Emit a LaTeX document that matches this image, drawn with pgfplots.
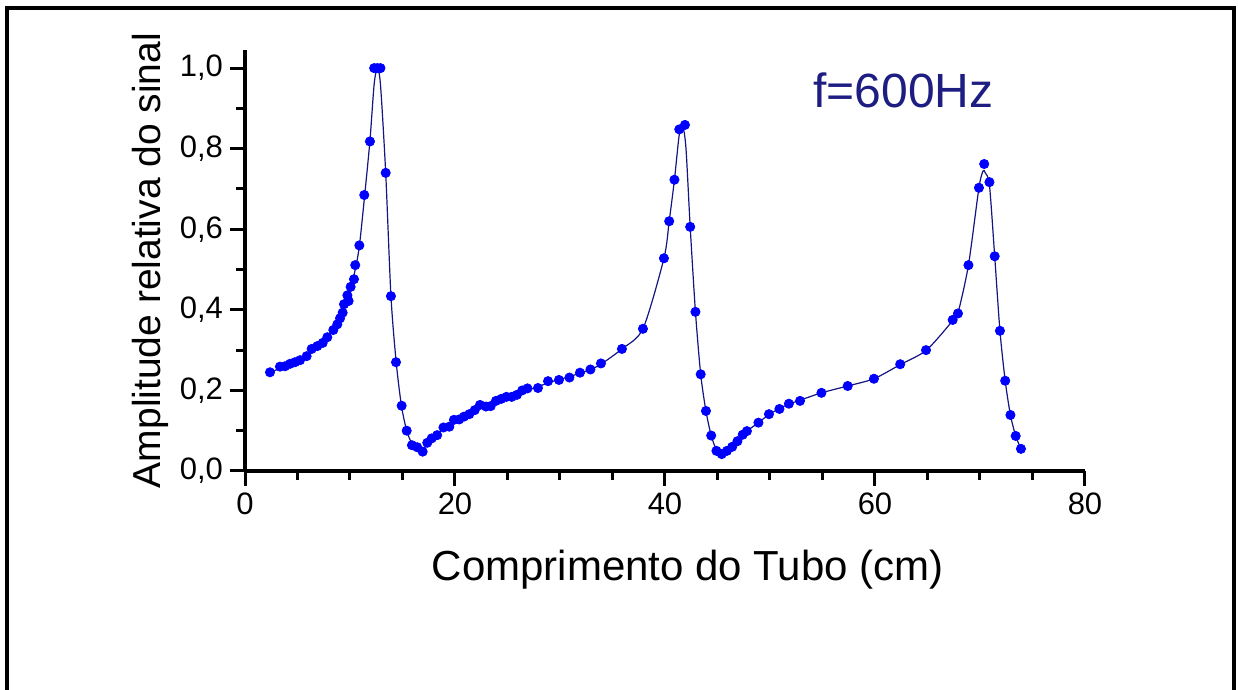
\documentclass[border=0pt]{standalone}
\usepackage{fontspec}
\setmainfont{Liberation Sans}
\usepackage{pgfplots}
\pgfplotsset{compat=1.18}
\definecolor{navyline}{RGB}{20,20,130}
\definecolor{ftext}{RGB}{30,30,130}
\begin{document}
\begin{tikzpicture}[x=1pt,y=1pt]
\useasboundingbox (0,0) rectangle (619,345);
\draw[line width=1.6pt] (3.5,-2) -- (3.5,341) -- (617,341) -- (617,-2);
\begin{axis}[
  at={(122.5pt,109.5pt)}, anchor=south west,
  scale only axis, width=420pt, height=210.5pt,
  xmin=0, xmax=80, ymin=0, ymax=1.045,
  axis x line*=bottom, axis y line*=left,
  axis line style={line width=2pt},
  xtick={0,20,40,60,80}, ytick={0,0.2,0.4,0.6,0.8,1.0},
  minor xtick={5,10,15,25,30,35,45,50,55,65,70,75},
  minor ytick={0.1,0.3,0.5,0.7,0.9},
  tick align=outside,
  major tick length=7.5pt, minor tick length=4.5pt,
  every tick/.style={black, line width=1.5pt},
  ticklabel style={font=\fontsize{15.5}{17}\selectfont},
  /pgf/number format/assume math mode=true,
  yticklabel style={/pgf/number format/.cd, fixed, fixed zerofill, precision=1, use comma},
  xticklabel style={/pgf/number format/.cd, fixed, precision=0},
  xlabel={Comprimento do Tubo (cm)},
  ylabel={Amplitude relativa do sinal},
  xlabel style={font=\fontsize{21}{24}\selectfont, at={(axis description cs:0.527,-0.235)}, anchor=center},
  ylabel style={font=\fontsize{19.5}{22}\selectfont, at={(axis description cs:-0.113,0.5)}, anchor=center, rotate=0},
  clip=false,
]
\addplot[navyline, line width=0.6pt, smooth, tension=0.45, no marks] coordinates {
(2.38,0.245)(3.8,0.259)(5.2,0.274)(6.4,0.298)(7.4,0.318)(8.4,0.349)(9.3,0.395)(10.0,0.45)(10.5,0.50)(10.9,0.56)(11.4,0.685)(11.9,0.82)(12.3,0.96)(12.6,0.998)(12.9,0.96)(13.4,0.74)(13.9,0.434)(14.4,0.27)(14.9,0.162)(15.4,0.1)(15.9,0.068)(16.4,0.056)(16.9,0.052)(17.4,0.068)(17.8,0.08)(18.3,0.091)(18.9,0.105)(19.9,0.124)(20.9,0.135)(21.9,0.15)(22.9,0.162)(23.9,0.173)(24.9,0.183)(25.9,0.19)(26.9,0.2)(27.9,0.209)(28.9,0.219)(29.9,0.227)(30.9,0.234)(31.9,0.243)(32.9,0.252)(33.9,0.265)(35.9,0.303)(37.9,0.353)(39.9,0.528)(40.4,0.62)(40.9,0.723)(41.36,0.835)(41.7,0.855)(42.0,0.8)(42.4,0.606)(42.9,0.395)(43.4,0.24)(43.9,0.149)(44.4,0.088)(44.9,0.052)(45.3,0.044)(45.9,0.05)(46.4,0.06)(46.9,0.074)(47.4,0.088)(47.8,0.099)(48.9,0.12)(49.9,0.14)(50.9,0.155)(51.8,0.166)(52.9,0.176)(54.9,0.194)(57.4,0.211)(59.9,0.229)(62.4,0.264)(64.9,0.3)(67.4,0.373)(67.9,0.392)(68.9,0.511)(69.9,0.703)(70.3,0.745)(70.5,0.74)(70.9,0.71)(71.4,0.533)(71.9,0.348)(72.4,0.224)(72.9,0.139)(73.4,0.087)(73.9,0.055)
};
\addplot[only marks, mark=*, mark size=2.3pt, blue, mark options={fill=blue, draw=blue}] coordinates {
(2.38,0.245)(3.33,0.259)(3.81,0.260)(4.29,0.266)(4.76,0.270)(5.24,0.275)(5.87,0.285)(6.35,0.303)(6.89,0.310)(7.40,0.318)(7.84,0.332)(8.41,0.350)(8.79,0.364)(9.05,0.379)(9.30,0.393)(9.43,0.414)(9.75,0.436)(9.87,0.422)(10.06,0.457)(10.38,0.476)(10.50,0.511)(10.89,0.560)(11.36,0.685)(11.90,0.818)(12.30,1.000)(12.60,1.000)(12.90,1.000)(13.40,0.740)(13.90,0.434)(14.38,0.270)(14.92,0.162)(15.40,0.100)(15.90,0.064)(16.40,0.059)(16.92,0.048)(17.36,0.070)(17.78,0.081)(18.30,0.089)(18.90,0.108)(19.46,0.110)(19.90,0.127)(20.40,0.128)(20.86,0.135)(21.36,0.141)(21.88,0.151)(22.38,0.164)(22.95,0.160)(23.40,0.161)(23.90,0.174)(24.40,0.179)(24.90,0.184)(25.40,0.184)(25.90,0.189)(26.40,0.200)(26.90,0.205)(27.90,0.206)(28.86,0.223)(29.90,0.226)(30.90,0.232)(31.90,0.244)(32.90,0.252)(33.90,0.267)(35.90,0.303)(37.90,0.353)(39.90,0.528)(40.40,0.620)(40.90,0.723)(41.36,0.848)(41.90,0.859)(42.40,0.606)(42.90,0.395)(43.40,0.240)(43.90,0.149)(44.40,0.088)(44.90,0.050)(45.40,0.042)(45.90,0.050)(46.40,0.060)(46.90,0.074)(47.40,0.090)(47.80,0.099)(48.90,0.120)(49.90,0.141)(50.90,0.154)(51.80,0.167)(52.86,0.174)(54.90,0.194)(57.40,0.211)(59.90,0.229)(62.40,0.265)(64.86,0.300)(67.40,0.375)(67.90,0.391)(68.90,0.511)(69.90,0.703)(70.40,0.762)(70.90,0.717)(71.40,0.533)(71.90,0.348)(72.40,0.224)(72.90,0.139)(73.40,0.087)(73.90,0.055)
};
\node[ftext, font=\fontsize{24}{28}\selectfont, anchor=center] at (axis cs:62.7,0.945) {f=600Hz};
\end{axis}
\end{tikzpicture}
\end{document}
